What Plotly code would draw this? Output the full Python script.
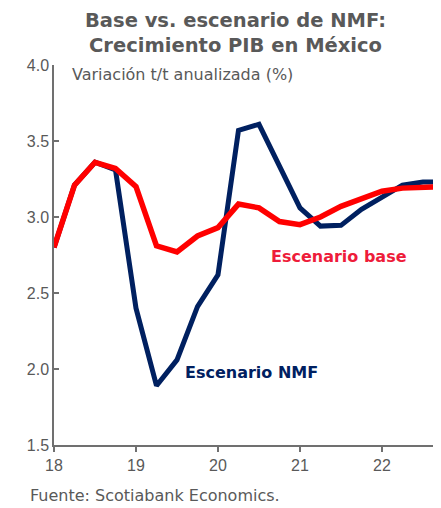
import plotly.graph_objects as go

# quarters from 2018Q1 to 2022Q4, expressed as year fractions (18.0, 18.25, ...)
quarters = [18.0, 18.25, 18.5, 18.75, 19.0, 19.25, 19.5, 19.75, 20.0, 20.25,
            20.5, 20.75, 21.0, 21.25, 21.5, 21.75, 22.0, 22.25, 22.5, 22.75]

base = [2.80, 3.21, 3.36, 3.32, 3.20, 2.81, 2.77, 2.875, 2.93, 3.085,
        3.06, 2.97, 2.95, 3.00, 3.07, 3.12, 3.17, 3.19, 3.195, 3.20]

nmf = [2.80, 3.21, 3.36, 3.31, 2.40, 1.89, 2.06, 2.41, 2.62, 3.57,
       3.61, 3.33, 3.06, 2.94, 2.945, 3.05, 3.13, 3.21, 3.23, 3.23]

x_ticks = [18, 19, 20, 21, 22]
y_ticks = [1.5, 2.0, 2.5, 3.0, 3.5, 4.0]

GREY = "#595959"
NAVY = "#002060"
RED = "#FF0000"
TICK_FONT = "Liberation Sans, Arial, sans-serif"
TEXT_FONT = "DejaVu Sans, sans-serif"

fig = go.Figure()

fig.add_trace(go.Scatter(x=quarters, y=nmf, mode="lines",
                         line={"color": NAVY, "width": 5}, showlegend=False))
fig.add_trace(go.Scatter(x=quarters, y=base, mode="lines",
                         line={"color": RED, "width": 5.5}, showlegend=False))

fig.update_xaxes(
    range=[18, 22.72],
    tickvals=x_ticks,
    ticktext=[str(v) for v in x_ticks],
    showgrid=False, zeroline=False,
    showline=True, linecolor="#707070", linewidth=1.5,
    ticks="outside", ticklen=5, tickcolor="#707070", tickwidth=1.5,
    tickfont={"size": 16, "color": GREY, "family": TICK_FONT},
)
fig.update_yaxes(
    range=[1.5, 4.0],
    tickvals=y_ticks,
    ticktext=[f"{v:.1f}" for v in y_ticks],
    showgrid=False, zeroline=False,
    showline=True, linecolor="#707070", linewidth=1.5,
    ticks="inside", ticklen=5, tickcolor="#707070", tickwidth=1.5,
    tickfont={"size": 16, "color": GREY, "family": TICK_FONT},
)

# title, subtitle and source note (page has an 8px body margin)
fig.add_annotation(x=0.468, y=1.0855, xref="paper", yref="paper",
                   text="<b>Base vs. escenario de NMF:<br>Crecimiento PIB en México</b>",
                   showarrow=False, xanchor="center", yanchor="middle", align="center",
                   font={"size": 19.5, "color": GREY, "family": TEXT_FONT})
fig.add_annotation(x=0.0413, y=0.9737, xref="paper", yref="paper",
                   text="Variación t/t anualizada (%)", showarrow=False,
                   xanchor="left", yanchor="middle",
                   font={"size": 16, "color": GREY, "family": TEXT_FONT})
fig.add_annotation(x=-0.0672, y=-0.134, xref="paper", yref="paper",
                   text="Fuente: Scotiabank Economics.", showarrow=False,
                   xanchor="left", yanchor="middle",
                   font={"size": 16, "color": GREY, "family": TEXT_FONT})

# series labels
fig.add_annotation(x=21.48, y=2.74, text="<b>Escenario base</b>", showarrow=False,
                   font={"size": 16, "color": "#EE1C3A", "family": TEXT_FONT})
fig.add_annotation(x=20.41, y=1.98, text="<b>Escenario NMF</b>", showarrow=False,
                   font={"size": 16, "color": NAVY, "family": TEXT_FONT})

fig.update_layout(
    width=433, height=500,
    margin={"l": 46, "r": 0, "t": 57, "b": 63},
    plot_bgcolor="white", paper_bgcolor="white",
    font={"family": TICK_FONT, "color": GREY},
)

fig.write_html("out.html")
